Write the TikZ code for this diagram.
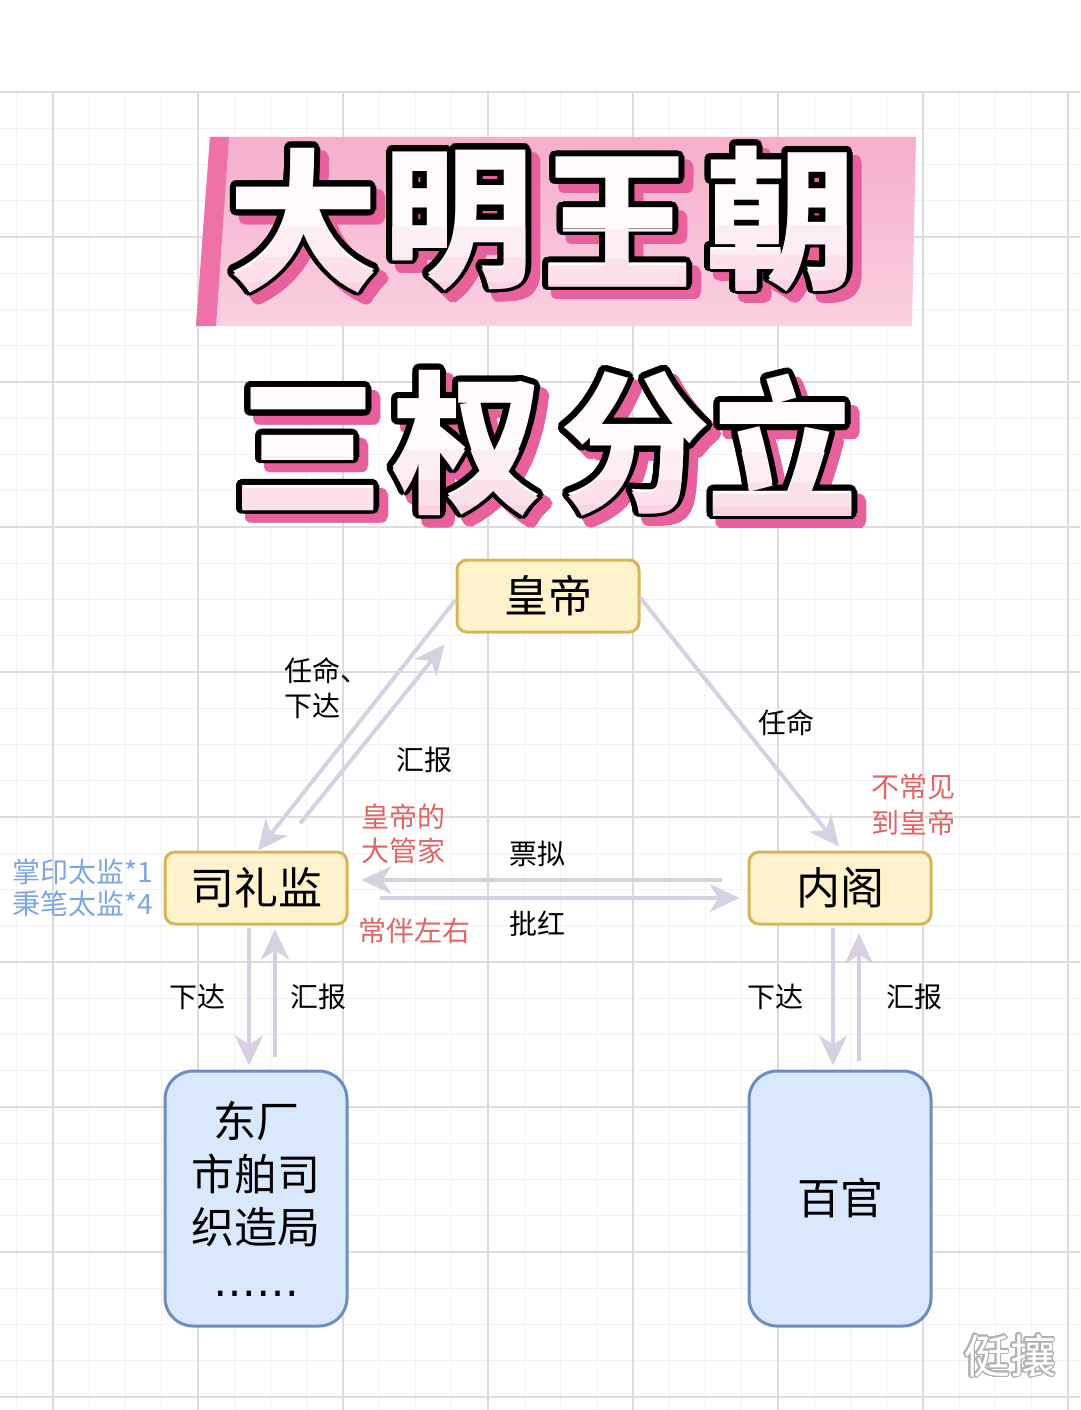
\documentclass[tikz,border=0pt]{standalone}
\usepackage{fontspec}
\newfontfamily\cjk{Noto Sans CJK SC}
\newfontfamily\dejavu{DejaVu Sans}
\usepackage{contour}
\usetikzlibrary{arrows.meta}
\definecolor{gridminor}{HTML}{F1F1F1}
\definecolor{gridmajor}{HTML}{DCDCDC}
\definecolor{yfill}{HTML}{FFF2CC}
\definecolor{ydraw}{HTML}{D6B656}
\definecolor{bfill}{HTML}{DAE8FC}
\definecolor{bdraw}{HTML}{6C8EBF}
\definecolor{arrc}{HTML}{D7D0E3}
\definecolor{redt}{HTML}{E06666}
\definecolor{bluet}{HTML}{7EA6E0}
\definecolor{pinkbandtop}{HTML}{F5AECB}
\definecolor{pinkbandbot}{HTML}{FAD0E0}
\definecolor{pinkdark}{HTML}{EE72A8}
\definecolor{pinkshadow}{HTML}{E8609C}
\definecolor{titlefill}{HTML}{FFFAFC}
\definecolor{grad1}{HTML}{FDEDF4}
\definecolor{grad2}{HTML}{FCE0EC}
\definecolor{grad3}{HTML}{FAD3E4}
\contournumber{32}
\begin{document}
\begin{tikzpicture}[x=1pt,y=-1pt,
  ybox/.style={draw=ydraw, fill=yfill, line width=3pt, rounded corners=10pt,
    minimum width=182pt, minimum height=72pt, inner sep=0pt,
    font=\cjk\fontsize{44}{44}\selectfont},
  bbox/.style={draw=bdraw, fill=bfill, line width=3pt, rounded corners=28pt,
    minimum width=182pt, minimum height=255pt, inner sep=0pt, align=center,
    font=\cjk\fontsize{43}{53}\selectfont},
  arr/.style={draw=arrc, line width=4pt, -{Stealth[length=30pt,width=28pt,inset=9pt]}},
  lab/.style={font=\cjk\fontsize{28}{35}\selectfont, inner sep=0pt, text=black},
  titlech/.style={font=\cjk\bfseries\fontsize{150}{150}\selectfont, inner sep=0pt},
]
\useasboundingbox (0,0) rectangle (1080,1410);
\fill[white] (0,0) rectangle (1080,1410);
% grid
\foreach \k in {0,...,29} \draw[gridminor, line width=1pt] ({16.75+36.25*\k},92) -- ({16.75+36.25*\k},1410);
\foreach \k in {0,...,36} \draw[gridminor, line width=1pt] (0,{92+36.25*\k}) -- (1080,{92+36.25*\k});
\foreach \k in {0,...,7} \draw[gridmajor, line width=1.5pt] ({53+145*\k},92) -- ({53+145*\k},1410);
\foreach \k in {0,...,9} \draw[gridmajor, line width=1.5pt] (0,{92+145*\k}) -- (1080,{92+145*\k});
% title band
\shade[top color=pinkbandtop, bottom color=pinkbandbot] (210,137) -- (916,137) -- (912,326) -- (196,326) -- cycle;
\fill[pinkdark] (210,137) -- (229,137) -- (216,326) -- (196,326) -- cycle;
% title characters
\contourlength{6pt}
\foreach \c/\x/\y/\n in {大/303/222/1, 明/458/222/2, 王/617/224/3, 朝/781/220/4,
                         三/308/451/5, 权/467/445/6, 分/635/445/7, 立/782/447/8} {
  \node[titlech, text=pinkshadow] (t\n s) at (\x+9,\y+9) {\contour{pinkshadow}{\c}};
  \node[titlech, text=titlefill] (t\n) at (\x,\y) {\contour{black}{\c}};
  \begin{scope}
    \clip (\x-90,\y+5) rectangle (\x+90,\y+35);
    \node[titlech, text=grad1] (t\n a) at (\x,\y) {\c};
  \end{scope}
  \begin{scope}
    \clip (\x-90,\y+35) rectangle (\x+90,\y+60);
    \node[titlech, text=grad2] (t\n b) at (\x,\y) {\c};
  \end{scope}
  \begin{scope}
    \clip (\x-90,\y+60) rectangle (\x+90,\y+110);
    \node[titlech, text=grad3] (t\n c) at (\x,\y) {\c};
  \end{scope}
}
% boxes
\node[ybox] (hd) at (548,596) {皇帝};
\node[ybox] (sl) at (256,888) {司礼监};
\node[ybox] (ng) at (840,888) {内阁};
\node[bbox] (dc) at (256,1198.5) {东厂\\市舶司\\织造局\\{\dejavu ……}};
\node[bbox] (bg) at (840,1198.5) {百官};
% connectors
\draw[arr] ([yshift=-4pt]hd.west) -- ([xshift=2pt]sl.north);
\draw[arr] ([xshift=44pt,yshift=27pt]sl.north) -- ([xshift=-11pt,yshift=-11pt]hd.south west);
\draw[arr] ([yshift=-2pt]hd.east) -- ([xshift=-1pt,yshift=4pt]ng.north);
\draw[arr] ([xshift=-26pt,yshift=8pt]ng.west) -- ([xshift=13pt,yshift=8pt]sl.east);
\draw[arr] ([xshift=31pt,yshift=-10pt]sl.east) -- ([xshift=-8pt,yshift=-10pt]ng.west);
\draw[arr] ([xshift=-7pt,yshift=-2pt]sl.south) -- ([xshift=-7pt,yshift=4pt]dc.north);
\draw[arr] ([xshift=19pt,yshift=13pt]dc.north) -- ([xshift=19pt,yshift=-4pt]sl.south);
\draw[arr] ([xshift=-7pt,yshift=-2pt]ng.south) -- ([xshift=-7pt,yshift=4pt]bg.north);
\draw[arr] ([xshift=19pt,yshift=9pt]bg.north) -- ([xshift=19pt,yshift=-8pt]ng.south);
% labels
\node[lab, align=left, anchor=west] (l1) at (284,688) {任命、\\下达};
\node[lab] (l2) at (424,760) {汇报};
\node[lab] (l3) at (786,723) {任命};
\node[lab, text=redt, align=left, font=\cjk\fontsize{28}{36}\selectfont] (l4) at (913,805) {不常见\\到皇帝};
\node[lab, text=redt, align=left, font=\cjk\fontsize{28}{34}\selectfont] (l5) at (403,834) {皇帝的\\大管家};
\node[lab, text=redt] (l6) at (414,931) {常伴左右};
\node[lab] (l7) at (537,854) {票拟};
\node[lab] (l8) at (537,924) {批红};
\node[lab, text=bluet, align=left, anchor=west, font=\cjk\fontsize{28}{32}\selectfont] (l9) at (12,888) {掌印太监*1\\秉笔太监*4};
\node[lab] (l10) at (197,997) {下达};
\node[lab] (l11) at (318,997) {汇报};
\node[lab] (l12) at (775,997) {下达};
\node[lab] (l13) at (914,997) {汇报};
% watermark
\contourlength{1.2pt}
\node[font=\cjk\fontsize{46}{46}\selectfont, text=white, inner sep=0pt] (wm) at (1010,1356) {\contour{black!30}{侹攘}};
\end{tikzpicture}
\end{document}
